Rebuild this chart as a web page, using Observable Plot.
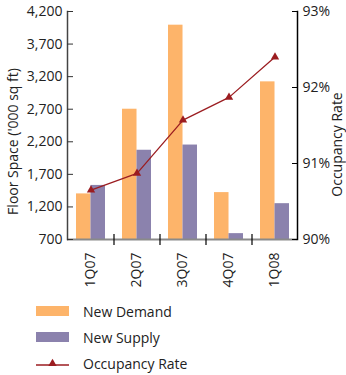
<!DOCTYPE html>
<html><head><meta charset="utf-8">
<script src="https://cdn.jsdelivr.net/npm/d3@7"></script>
<script src="https://cdn.jsdelivr.net/npm/@observablehq/plot@0.6"></script>
<style>
body{margin:0;background:#fff;font-family:"Open Sans",sans-serif;color:#222;}
#chart{width:346px;}
.legend{margin-top:3px;}
.row{height:26px;display:flex;align-items:center;font-size:14px;}
.sw{display:inline-block;width:33px;height:10px;margin-left:36px;margin-right:14px;}
.row svg{margin-left:36px;margin-right:14px;}
</style></head><body><div id="chart"></div><script>
const quarters = ["1Q07","2Q07","3Q07","4Q07","1Q08"];
const newDemand = [1400, 2700, 3990, 1420, 3120];
const newSupply = [1530, 2070, 2150, 790, 1250];
const occupancyRate = [90.65, 90.87, 91.57, 91.87, 92.4];
const leftTicks = [700,1200,1700,2200,2700,3200,3700,4200];
const rightTicks = [90,91,92,93];
const seriesNames = ["New Demand","New Supply","Occupancy Rate"];
const leftTitle = "Floor Space ('000 sq ft)";
const rightTitle = "Occupancy Rate";

const colors = {demand:"#FDB46A", supply:"#8B82AD", occ:"#9B1C20"};
const W = 346, H = 295, mL = 67, mR = 49, mT = 11, mB = 56;
const plotW = W - mL - mR, plotH = H - mT - mB;
const step = plotW / quarters.length;
const pInner = 0.37;
const bw = step * (1 - pInner);

const yMin = leftTicks[0], yMax = leftTicks[leftTicks.length-1];
const rMin = rightTicks[0], rMax = rightTicks[rightTicks.length-1];
const toY = v => yMin + (v - rMin) / (rMax - rMin) * (yMax - yMin);
const fromY = y => rMin + (y - yMin) / (yMax - yMin) * (rMax - rMin);

const demand = quarters.map((q,i)=>({q, v:newDemand[i]}));
const supply = quarters.map((q,i)=>({q, v:newSupply[i]}));
const occ = quarters.map((q,i)=>({q, v:toY(occupancyRate[i])}));

const chart = Plot.plot({
  width: W, height: H,
  marginLeft: mL, marginRight: mR, marginTop: mT, marginBottom: mB,
  style: {fontFamily: "'Open Sans', sans-serif", fontSize: "14px", color: "#222", background: "#fff"},
  x: {type: "band", domain: quarters, paddingInner: pInner, paddingOuter: pInner/2, label: null},
  y: {domain: [yMin, yMax], label: null},
  marks: [
    Plot.barY(demand, {x: "q", y1: yMin, y2: "v", fill: colors.demand, insetLeft: 0, insetRight: bw/2}),
    Plot.barY(supply, {x: "q", y1: yMin, y2: "v", fill: colors.supply, insetLeft: bw/2, insetRight: 0}),
    Plot.ruleY([yMin], {stroke: "#8a8a8a", strokeWidth: 2}),
    Plot.frame({anchor: "left", stroke: "#444", strokeWidth: 1.5}),
    Plot.frame({anchor: "right", stroke: "#000", strokeWidth: 1.5}),
    Plot.ruleX(quarters.slice(1), {x: d => d, dx: -step/2, insetTop: plotH - 5, insetBottom: -6, stroke: "#000", strokeWidth: 1.2}),
    Plot.axisY(leftTicks, {anchor: "left", tickSize: 6, insetLeft: 6, tickPadding: 5, tickFormat: d3.format(","), label: null, stroke: "#333"}),
    Plot.axisY(rightTicks.map(toY), {anchor: "right", tickSize: 6, insetRight: 6, tickPadding: 5, tickFormat: v => Math.round(fromY(v)) + "%", label: null, stroke: "#000"}),
    Plot.axisX({anchor: "bottom", tickSize: 0, tickPadding: 13, tickRotate: -90, label: null, fontSize: 14}),
    Plot.lineY(occ, {x: "q", y: "v", stroke: colors.occ, strokeWidth: 1.3}),
    Plot.dot(occ, {x: "q", y: "v", symbol: "triangle", r: 3.1, fill: colors.occ, stroke: null}),
    Plot.text([leftTitle], {frameAnchor: "left", dx: -54, dy: 16, rotate: -90, textAnchor: "middle", fontSize: 14, fill: "#222"}),
    Plot.text([rightTitle], {frameAnchor: "right", dx: 40, dy: 19, rotate: -90, textAnchor: "middle", fontSize: 14, fill: "#222"})
  ]
});
document.getElementById("chart").appendChild(chart);

const legend = document.createElement("div");
legend.className = "legend";
const swatchColors = [colors.demand, colors.supply];
seriesNames.forEach((name, i) => {
  const row = document.createElement("div");
  row.className = "row";
  if (i < 2) {
    const sw = document.createElement("span");
    sw.className = "sw";
    sw.style.background = swatchColors[i];
    row.appendChild(sw);
  } else {
    const ns = "http://www.w3.org/2000/svg";
    const s = document.createElementNS(ns, "svg");
    s.setAttribute("width", 33); s.setAttribute("height", 12);
    const l = document.createElementNS(ns, "line");
    l.setAttribute("x1", 0); l.setAttribute("x2", 33); l.setAttribute("y1", 8); l.setAttribute("y2", 8);
    l.setAttribute("stroke", colors.occ); l.setAttribute("stroke-width", 1.3);
    const t = document.createElementNS(ns, "path");
    t.setAttribute("d", d3.symbol(d3.symbolTriangle, Math.PI * 3.1 * 3.1)());
    t.setAttribute("transform", "translate(16.5,6.5)");
    t.setAttribute("fill", colors.occ);
    s.appendChild(l); s.appendChild(t);
    row.appendChild(s);
  }
  const tx = document.createElement("span");
  tx.textContent = name;
  row.appendChild(tx);
  legend.appendChild(row);
});
document.getElementById("chart").appendChild(legend);
</script></body></html>
